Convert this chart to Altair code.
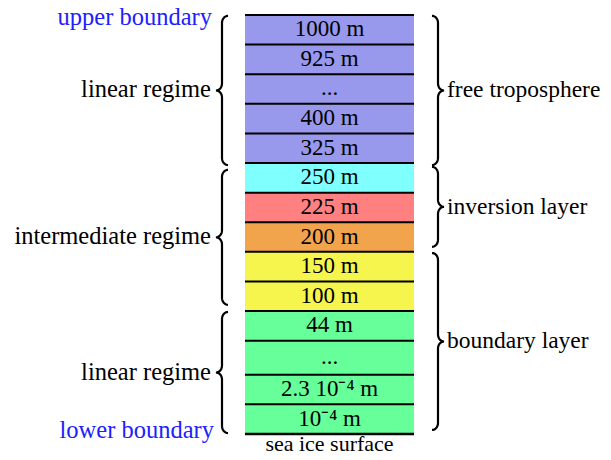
import math
import altair as alt
import pandas as pd

# ---------------- data ----------------
row_labels = ["1000 m", "925 m", "...", "400 m", "325 m", "250 m", "225 m",
              "200 m", "150 m", "100 m", "44 m", "...", "2.3 10⁻⁴ m", "10⁻⁴ m"]
row_colors = ["#9898EC", "#9898EC", "#9898EC", "#9898EC", "#9898EC",
              "#80FFFF", "#FF8080", "#F2A44C", "#F5F54D", "#F5F54D",
              "#66FF99", "#66FF99", "#66FF99", "#66FF99"]
row_heights = [1, 1, 1, 1, 1, 1, 1, 1, 1, 1, 1, 1.15, 1, 1]

left_groups = ["linear regime", "intermediate regime", "linear regime"]
left_top = [14.12, 8.92, 4.12]
left_bottom = [9.08, 4.36, 0.03]

right_groups = ["free troposphere", "inversion layer", "boundary layer"]
right_top = [14.12, 9.02, 6.11]
right_bottom = [9.08, 6.32, 0.135]

boundary_labels = ["upper boundary", "lower boundary"]
surface_label = ["sea ice surface"]

# ---------------- layout ----------------
W, H = 595, 444
PX = 29.61
Y_TOP = 14.149 + 7 / PX
Y_DOMAIN = [Y_TOP - H / PX, Y_TOP]
FONT = "Liberation Serif"
FS_LEFT = 24.5
FS_RIGHT = 23.5
FS_BOX = 23

tops = []
level = sum(row_heights)
for h in row_heights:
    tops.append(level)
    level -= h
bottoms = [t - h for t, h in zip(tops, row_heights)]
rows = pd.DataFrame({
    "label": row_labels, "color": row_colors,
    "top": tops, "bottom": bottoms,
    "mid": [(t + b) / 2 for t, b in zip(tops, bottoms)],
})
lines = pd.DataFrame({"level": tops + [0.0], "w": [2.0] * len(tops) + [2.6]})


def brace(gid, top, bottom, x_line, s, d=6.0, r=7.0, n=10):
    ry = r / PX
    mid = (top + bottom) / 2
    pts = []
    cx, cy = x_line + s * d, top - ry
    for i in range(n + 1):
        t = math.pi / 2 * i / n
        pts.append((cx - s * d * math.sin(t), cy + ry * math.cos(t)))
    cx, cy = x_line - s * d, mid + ry
    for i in range(n + 1):
        t = math.pi / 2 * i / n
        pts.append((cx + s * d * math.cos(t), cy - ry * math.sin(t)))
    cx, cy = x_line - s * d, mid - ry
    for i in range(n + 1):
        t = math.pi / 2 * i / n
        pts.append((cx + s * d * math.sin(t), cy + ry * math.cos(t)))
    cx, cy = x_line + s * d, bottom + ry
    for i in range(n + 1):
        t = math.pi / 2 * i / n
        pts.append((cx - s * d * math.cos(t), cy - ry * math.sin(t)))
    return [{"g": gid, "seq": k, "x": x, "y": y} for k, (x, y) in enumerate(pts)]


brace_pts = []
for i, (t, b) in enumerate(zip(left_top, left_bottom)):
    brace_pts += brace(f"L{i}", t, b, 214.0, 1)
for i, (t, b) in enumerate(zip(right_top, right_bottom)):
    brace_pts += brace(f"R{i}", t, b, 430.0, -1)
braces = pd.DataFrame(brace_pts)

left_df = pd.DataFrame({"label": left_groups,
                        "mid": [(t + b) / 2 for t, b in zip(left_top, left_bottom)]})
right_df = pd.DataFrame({"label": right_groups,
                         "mid": [(t + b) / 2 for t, b in zip(right_top, right_bottom)]})
bound_df = pd.DataFrame({"label": boundary_labels, "level": [tops[0], 0.0]})
surf_df = pd.DataFrame({"label": surface_label, "level": [0.0]})

yscale = alt.Scale(domain=Y_DOMAIN, nice=False, zero=False)
xscale = alt.Scale(domain=[0, W], nice=False, zero=False)
BX0, BX1 = 237, 406
CX = (BX0 + BX1) / 2
INK = "#000000"

boxes = alt.Chart(rows).mark_rect().encode(
    x=alt.value(BX0), x2=alt.value(BX1),
    y=alt.Y("bottom:Q", scale=yscale, axis=None), y2="top:Q",
    fill=alt.Fill("color:N", scale=None),
)
rules = alt.Chart(lines).mark_rule(color="black").encode(
    x=alt.value(BX0), x2=alt.value(BX1),
    y=alt.Y("level:Q", scale=yscale, axis=None),
    strokeWidth=alt.StrokeWidth("w:Q", scale=None),
)
box_text = alt.Chart(rows).mark_text(font=FONT, fontSize=FS_BOX, color=INK,
                                     baseline="alphabetic", dy=6.5).encode(
    x=alt.value(CX), y=alt.Y("mid:Q", scale=yscale, axis=None), text="label:N",
)
brace_lines = alt.Chart(braces).mark_line(color="black", strokeWidth=2.2).encode(
    x=alt.X("x:Q", scale=xscale, axis=None),
    y=alt.Y("y:Q", scale=yscale, axis=None),
    detail="g:N", order="seq:Q",
)
left_text = alt.Chart(left_df).mark_text(font=FONT, fontSize=FS_LEFT, color=INK,
                                         align="right", baseline="alphabetic", dy=7).encode(
    x=alt.value(203), y=alt.Y("mid:Q", scale=yscale, axis=None), text="label:N",
)
right_text = alt.Chart(right_df).mark_text(font=FONT, fontSize=FS_RIGHT, color=INK,
                                           align="left", baseline="alphabetic", dy=7).encode(
    x=alt.value(439), y=alt.Y("mid:Q", scale=yscale, axis=None), text="label:N",
)
upper_text = alt.Chart(bound_df.iloc[[0]]).mark_text(
    font=FONT, fontSize=FS_LEFT, color="#2020FF", align="right",
    baseline="alphabetic", dy=10).encode(
    x=alt.value(204), y=alt.Y("level:Q", scale=yscale, axis=None), text="label:N",
)
lower_text = alt.Chart(bound_df.iloc[[1]]).mark_text(
    font=FONT, fontSize=FS_LEFT, color="#2020FF", align="right",
    baseline="alphabetic", dy=4).encode(
    x=alt.value(206), y=alt.Y("level:Q", scale=yscale, axis=None), text="label:N",
)
surf_text = alt.Chart(surf_df).mark_text(font=FONT, fontSize=22, color=INK,
                                         baseline="alphabetic", dy=17).encode(
    x=alt.value(CX), y=alt.Y("level:Q", scale=yscale, axis=None), text="label:N",
)

chart = alt.layer(boxes, rules, box_text, brace_lines, left_text, right_text,
                  upper_text, lower_text, surf_text).properties(
    width=W, height=H, padding=0, autosize=alt.AutoSizeParams(type="none"),
).configure_view(stroke=None)

chart.save("out.html", embed_options={"renderer": "svg", "actions": False})
